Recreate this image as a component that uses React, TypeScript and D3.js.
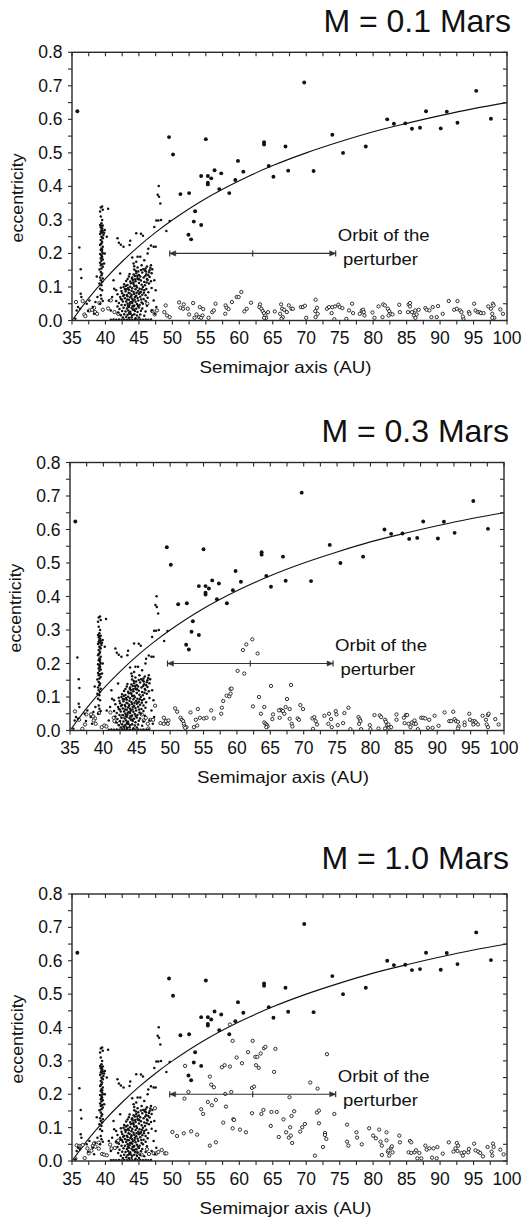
import React from 'react';
import * as d3 from 'd3';

const W = 524;
const H = 1221;

// Titles (perturber mass)
const massLabels = ['0.1', '0.3', '1.0'];
const xTickLabels = [35, 40, 45, 50, 55, 60, 65, 70, 75, 80, 85, 90, 95, 100];
const yTickLabels = ['0.0', '0.1', '0.2', '0.3', '0.4', '0.5', '0.6', '0.7', '0.8'];

// q = 35 AU curve [a, e]
const qCurve: [number, number][] = [
  [35, 0], [37.5, 0.067], [40, 0.125], [42.5, 0.176], [45, 0.222], [47.5, 0.263], [50, 0.3], [55, 0.364],
  [60, 0.417], [65, 0.462], [70, 0.5], [75, 0.533], [80, 0.563], [85, 0.588], [90, 0.611],
  [95, 0.632], [100, 0.65],
];

// Large filled dots (scattered objects, identical in all panels) [a, e]
const bigDots: [number, number][] = [
  [35.8, 0.624], [49.5, 0.547], [50.1, 0.495], [55.0, 0.541], [51.2, 0.377], [52.5, 0.38],
  [53.4, 0.326], [53.2, 0.295], [54.3, 0.285], [52.4, 0.256], [52.8, 0.242], [54.3, 0.431],
  [55.3, 0.431], [55.3, 0.411], [55.3, 0.406], [55.8, 0.424], [56.3, 0.448], [57.3, 0.439],
  [57.0, 0.392], [58.5, 0.38], [59.4, 0.419], [59.8, 0.476], [60.6, 0.444], [63.7, 0.532],
  [63.7, 0.525], [64.4, 0.461], [65.1, 0.429], [66.9, 0.519], [67.3, 0.447], [69.7, 0.71],
  [71.1, 0.446], [73.9, 0.554], [75.5, 0.5], [78.9, 0.519], [82.1, 0.6], [83.1, 0.587],
  [84.8, 0.588], [85.8, 0.572], [87.0, 0.575], [87.9, 0.624], [90.1, 0.573], [91.0, 0.623],
  [92.6, 0.59], [95.4, 0.685], [97.6, 0.602],
];

// Plutinos (small dots near 39.4 AU)
const plutinos: [number, number][] = [
  [39.3, 0.337], [39.5, 0.34], [39.2, 0.325], [39.6, 0.33], [40.4, 0.333],
  [39.3, 0.31], [39.5, 0.3], [39.4, 0.29], [39.2, 0.285], [39.6, 0.283], [39.3, 0.278],
  [39.5, 0.275], [39.4, 0.27], [39.6, 0.268], [39.3, 0.265], [39.5, 0.262], [39.2, 0.258],
  [39.7, 0.255], [39.4, 0.25], [39.6, 0.245], [39.3, 0.24], [39.5, 0.235], [39.8, 0.262],
  [39.4, 0.23], [39.2, 0.225], [39.6, 0.22], [39.4, 0.215], [39.3, 0.21], [39.5, 0.205],
  [39.6, 0.2], [39.2, 0.198], [39.4, 0.195], [39.5, 0.19], [39.3, 0.185], [39.6, 0.182],
  [39.4, 0.178], [39.2, 0.172], [39.5, 0.168], [39.3, 0.165], [39.6, 0.16], [39.4, 0.155],
  [39.1, 0.152], [39.3, 0.145], [39.5, 0.14], [39.4, 0.135], [39.2, 0.128], [39.6, 0.125],
  [39.3, 0.12], [39.5, 0.115], [39.1, 0.11], [39.4, 0.105], [39.2, 0.095], [39.5, 0.09],
  [39.3, 0.075], [39.4, 0.065], [39.6, 0.058], [39.2, 0.05], [39.9, 0.27], [39.9, 0.2],
  [39.8, 0.17], [39.4, 0.282], [39.5, 0.248], [39.3, 0.228], [39.5, 0.212], [39.4, 0.188],
];

// Other small dots (scattered low-a objects)
const scatterSmall: [number, number][] = [
  [35.5, 0.005], [36.1, 0.218], [36.3, 0.153], [36.4, 0.127], [36.3, 0.08], [36.4, 0.07],
  [35.9, 0.04], [36.2, 0.035], [35.7, 0.03], [37.2, 0.05], [37.6, 0.06], [38.1, 0.04],
  [38.5, 0.055], [38.7, 0.131], [38.8, 0.07], [37.4, 0.028], [38.3, 0.02], [40.2, 0.25],
  [40.5, 0.06], [40.8, 0.03], [41.0, 0.07], [41.3, 0.095], [41.6, 0.09], [41.8, 0.245],
  [42.0, 0.232], [42.3, 0.226], [42.7, 0.22], [43.7, 0.238], [43.6, 0.225], [44.6, 0.26],
  [45.3, 0.259], [45.6, 0.253], [44.8, 0.19], [45.2, 0.19], [46.3, 0.2], [46.4, 0.214],
  [46.8, 0.224], [47.5, 0.22], [47.2, 0.22], [47.9, 0.298], [49.1, 0.267], [49.6, 0.297],
  [47.3, 0.279], [47.6, 0.298], [48.3, 0.3], [47.96, 0.401], [47.8, 0.375], [48.0, 0.369],
  [48.2, 0.349], [44.2, 0.17], [44.6, 0.175], [45.8, 0.18], [46.0, 0.155], [46.6, 0.15],
  [46.8, 0.165], [47.3, 0.12], [47.5, 0.09], [47.2, 0.06], [47.6, 0.04], [46.9, 0.03],
  [47.4, 0.02], [44.0, 0.188], [42.2, 0.14], [41.2, 0.12],
];

// Classical belt (dense small dots)
const classical: [number, number][] = [
  [44.3, 0.162], [44.8, 0.158], [45.4, 0.165], [46.2, 0.161], [46.7, 0.157],
  [44.3, 0.152], [44.9, 0.146], [45.3, 0.151], [45.9, 0.149], [46.5, 0.144], [47.0, 0.153],
  [43.6, 0.139], [44.2, 0.137], [44.6, 0.141], [45.0, 0.136], [45.5, 0.143], [46.1, 0.138], [46.4, 0.135], [46.9, 0.141],
  [43.3, 0.124], [43.5, 0.131], [44.0, 0.128], [44.4, 0.133], [44.8, 0.126], [45.2, 0.131], [45.7, 0.128], [46.2, 0.124], [46.6, 0.13],
  [42.8, 0.108], [43.1, 0.118], [43.7, 0.116], [44.1, 0.121], [44.5, 0.117], [44.9, 0.123], [45.3, 0.119], [45.8, 0.115], [46.3, 0.121], [46.8, 0.117],
  [42.3, 0.098], [42.7, 0.1], [43.3, 0.106], [43.8, 0.111], [44.2, 0.109], [44.6, 0.104], [45.0, 0.112], [45.4, 0.107], [45.9, 0.105], [46.5, 0.11],
  [42.4, 0.088], [42.9, 0.094], [43.4, 0.097], [43.7, 0.101], [44.0, 0.096], [44.3, 0.103], [44.7, 0.099], [45.1, 0.095], [45.6, 0.1], [46.1, 0.094], [46.9, 0.097],
  [41.8, 0.078], [42.5, 0.081], [43.0, 0.087], [43.5, 0.092], [43.9, 0.089], [44.2, 0.085], [44.5, 0.093], [44.9, 0.088], [45.3, 0.086], [45.8, 0.09], [46.4, 0.084],
  [42.2, 0.07], [42.8, 0.076], [43.2, 0.076], [43.6, 0.081], [43.9, 0.077], [44.3, 0.079], [44.6, 0.074], [45.0, 0.08], [45.5, 0.077], [46.0, 0.075],
  [41.6, 0.058], [42.3, 0.064], [42.9, 0.066], [43.3, 0.072], [43.7, 0.069], [44.0, 0.065], [44.4, 0.07], [44.8, 0.067], [45.2, 0.071], [45.7, 0.064], [46.3, 0.068],
  [42.0, 0.052], [42.6, 0.057], [43.1, 0.057], [43.5, 0.062], [43.8, 0.055], [44.1, 0.059], [44.5, 0.056], [44.9, 0.06], [45.4, 0.054], [46.0, 0.058],
  [41.8, 0.042], [42.4, 0.046], [42.9, 0.046], [43.3, 0.05], [43.6, 0.047], [44.0, 0.052], [44.3, 0.045], [44.7, 0.049], [45.1, 0.046], [45.6, 0.05], [46.2, 0.044],
  [42.1, 0.034], [42.7, 0.038], [43.2, 0.036], [43.5, 0.04], [43.9, 0.037], [44.2, 0.042], [44.6, 0.035], [45.0, 0.039], [45.5, 0.036],
  [41.9, 0.024], [42.5, 0.028], [43.0, 0.027], [43.4, 0.03], [43.7, 0.026], [44.1, 0.032], [44.4, 0.028], [44.8, 0.025], [45.3, 0.029], [46.0, 0.027],
  [42.3, 0.016], [42.8, 0.019], [43.3, 0.017], [43.6, 0.02], [44.0, 0.016], [44.3, 0.019], [44.7, 0.015], [45.2, 0.018], [45.8, 0.014],
  [42.6, 0.009], [43.1, 0.011], [43.5, 0.008], [43.9, 0.01], [44.5, 0.007], [45.0, 0.009],
  [40.8, 0.002], [41.2, 0.003], [41.6, 0.002], [42.0, 0.003], [42.4, 0.002], [42.8, 0.003], [43.2, 0.002], [43.6, 0.003],
  [44.0, 0.002], [44.4, 0.003], [44.8, 0.002], [45.2, 0.003], [45.6, 0.002], [46.0, 0.003], [46.4, 0.002], [46.8, 0.003],
  [43.15, 0.093], [43.45, 0.083], [43.85, 0.073], [44.15, 0.113], [44.35, 0.063], [44.65, 0.083], [44.05, 0.043],
  [43.25, 0.063], [43.65, 0.053], [44.45, 0.123], [44.75, 0.133], [45.05, 0.123], [45.15, 0.083], [45.45, 0.093],
  [43.05, 0.103], [43.55, 0.023], [44.25, 0.033], [44.85, 0.043], [43.35, 0.043], [42.65, 0.073], [42.45, 0.063],
  [45.35, 0.063], [45.75, 0.083], [46.15, 0.113], [45.95, 0.133], [44.55, 0.148], [45.65, 0.153], [46.05, 0.146],
  [43.95, 0.125], [43.75, 0.02],
];

// Open circles, M = 0.1 Mars
const openP1: [number, number][] = [
  [35.6, 0.055], [36.6, 0.058], [36.85, 0.018], [37.0, 0.013], [37.6, 0.03], [38.0, 0.032], [38.3, 0.038],
  [38.45, 0.025], [38.75, 0.02], [39.1, 0.052], [39.6, 0.032], [40.4, 0.036], [40.8, 0.06], [41.35, 0.025],
  [41.9, 0.02], [46.25, 0.05], [47.0, 0.028], [47.35, 0.018], [47.7, 0.03], [49.0, 0.045], [48.8, 0.025],
  [49.2, 0.015], [49.6, 0.01], [51.0, 0.054], [51.2, 0.038], [51.6, 0.035], [51.7, 0.048], [52.3, 0.035],
  [52.5, 0.018], [53.1, 0.052], [53.6, 0.018], [53.3, 0.008], [54.1, 0.04], [54.6, 0.034], [54.5, 0.015],
  [54.0, 0.01], [54.3, 0.008], [55.4, 0.008], [55.95, 0.025], [56.2, 0.03], [56.45, 0.05], [57.95, 0.045],
  [58.1, 0.038], [58.4, 0.034], [57.9, 0.02], [58.9, 0.055], [59.6, 0.07], [59.9, 0.07], [60.3, 0.085],
  [60.75, 0.027], [61.1, 0.035], [61.75, 0.053], [63.1, 0.048], [63.0, 0.04], [63.3, 0.035], [63.5, 0.028],
  [63.7, 0.022], [63.9, 0.015], [64.0, 0.008], [63.7, 0.008], [64.3, 0.025], [65.3, 0.027], [66.25, 0.048],
  [66.4, 0.035], [66.7, 0.032], [66.1, 0.02], [66.5, 0.01], [66.3, 0.005], [67.1, 0.025], [67.4, 0.045],
  [67.8, 0.035], [68.0, 0.035], [69.2, 0.04], [69.5, 0.04], [69.8, 0.044], [70.0, 0.008], [71.4, 0.062],
  [71.6, 0.038], [71.35, 0.028], [71.7, 0.02], [71.4, 0.01], [73.1, 0.035], [73.4, 0.04], [73.9, 0.04],
  [74.3, 0.042], [74.8, 0.047], [75.0, 0.04], [75.4, 0.037], [74.2, 0.004], [73.8, 0.022], [76.0, 0.005],
  [76.4, 0.03], [76.85, 0.05], [77.0, 0.022], [78.3, 0.03], [78.5, 0.032], [78.6, 0.025], [78.7, 0.015],
  [78.0, 0.02], [79.9, 0.024], [80.2, 0.008], [80.8, 0.042], [81.5, 0.048], [81.75, 0.045], [82.2, 0.035],
  [82.4, 0.028], [82.6, 0.02], [82.3, 0.015], [81.4, 0.01], [82.9, 0.018], [83.9, 0.047], [84.0, 0.025],
  [85.3, 0.048], [85.5, 0.042], [85.5, 0.052], [85.2, 0.025], [85.8, 0.025], [86.1, 0.015], [86.3, 0.03],
  [86.5, 0.018], [86.8, 0.032], [86.3, 0.008], [87.8, 0.037], [88.0, 0.032], [88.4, 0.03], [88.9, 0.04],
  [88.7, 0.01], [89.7, 0.043], [89.5, 0.01], [90.4, 0.02], [91.3, 0.058], [92.1, 0.032], [92.5, 0.035],
  [92.6, 0.058], [93.0, 0.03], [93.2, 0.025], [93.5, 0.005], [93.4, 0.012], [94.3, 0.025], [94.4, 0.02],
  [95.1, 0.05], [95.3, 0.03], [95.6, 0.025], [95.9, 0.025], [96.1, 0.022], [96.5, 0.022], [97.2, 0.042],
  [97.6, 0.035], [97.9, 0.05], [98.0, 0.045], [97.8, 0.02], [98.1, 0.008], [97.8, 0.008], [99.0, 0.033],
  [99.4, 0.02],
];

// Open circles, M = 0.3 Mars
const openP2: [number, number][] = [
  [35.75, 0.057], [36.35, 0.032], [36.85, 0.005], [37.25, 0.018], [37.45, 0.048], [38.15, 0.048], [38.45, 0.042],
  [38.75, 0.036], [38.55, 0.03], [38.85, 0.02], [39.35, 0.052], [39.75, 0.01], [40.15, 0.015], [40.45, 0.012],
  [41.05, 0.054], [41.55, 0.038], [41.65, 0.028], [42.85, 0.042], [42.35, 0.022], [43.05, 0.01], [43.35, 0.008],
  [45.75, 0.048], [46.05, 0.03], [46.35, 0.038], [46.65, 0.02], [47.05, 0.032], [47.45, 0.032], [46.75, 0.006],
  [47.75, 0.074], [49.05, 0.038], [49.35, 0.028], [49.05, 0.02], [49.75, 0.03], [49.65, 0.02], [48.55, 0.022],
  [50.75, 0.066], [51.05, 0.056], [51.55, 0.038], [51.75, 0.032], [51.95, 0.028], [52.05, 0.02], [52.15, 0.012],
  [52.45, 0.01], [52.25, 0.008], [53.05, 0.054], [53.85, 0.032], [54.15, 0.064], [54.45, 0.038], [54.05, 0.015],
  [53.55, 0.01], [55.05, 0.036], [55.45, 0.038], [56.55, 0.036], [56.15, 0.06], [57.65, 0.05], [57.75, 0.068],
  [57.95, 0.088], [58.45, 0.104], [58.85, 0.102], [59.05, 0.11], [59.05, 0.124], [59.2, 0.125],
  [62.3, 0.272], [61.4, 0.257], [60.9, 0.24], [63.1, 0.23], [60.1, 0.178], [61.1, 0.17], [65.1, 0.133],
  [68.1, 0.136], [63.3, 0.1], [67.5, 0.094], [62.4, 0.072], [64.1, 0.07], [63.6, 0.05], [66.5, 0.062],
  [66.7, 0.06], [66.3, 0.06], [66.9, 0.058], [67.3, 0.07], [67.9, 0.064], [67.1, 0.05], [65.4, 0.048],
  [65.3, 0.034], [66.4, 0.038], [67.9, 0.035], [64.1, 0.024], [64.3, 0.02], [64.5, 0.016], [64.6, 0.012],
  [64.4, 0.01], [68.2, 0.02], [68.3, 0.012], [69.1, 0.036], [69.3, 0.032], [69.5, 0.076], [69.9, 0.064],
  [71.3, 0.036], [71.6, 0.04], [71.8, 0.028], [72.0, 0.018], [71.4, 0.005], [73.1, 0.044], [73.8, 0.05],
  [74.1, 0.034], [73.7, 0.02], [74.2, 0.01], [74.8, 0.058], [74.9, 0.048], [75.1, 0.016], [75.9, 0.022],
  [76.1, 0.052], [76.7, 0.068], [77.0, 0.004], [78.2, 0.04], [78.4, 0.034], [78.5, 0.028], [78.3, 0.02],
  [78.6, 0.004], [79.9, 0.016], [80.0, 0.004], [80.6, 0.046], [81.4, 0.045], [81.6, 0.04], [82.2, 0.032],
  [82.3, 0.026], [82.5, 0.016], [82.2, 0.006], [82.7, 0.018], [82.8, 0.008], [83.1, 0.01], [81.2, 0.006],
  [83.9, 0.048], [83.9, 0.032], [85.0, 0.038], [85.3, 0.046], [85.5, 0.046], [85.1, 0.022], [85.7, 0.02],
  [86.0, 0.01], [86.2, 0.024], [86.5, 0.02], [86.6, 0.03], [87.1, 0.004], [86.8, 0.02], [87.6, 0.038],
  [87.9, 0.038], [88.2, 0.036], [88.8, 0.032], [88.6, 0.008], [89.3, 0.008], [89.6, 0.044], [90.2, 0.014],
  [91.1, 0.054], [91.8, 0.028], [92.1, 0.028], [92.4, 0.056], [92.6, 0.034], [92.8, 0.028], [93.1, 0.026],
  [93.2, 0.012], [93.1, 0.006], [94.1, 0.024], [94.1, 0.016], [94.8, 0.05], [94.9, 0.032], [95.3, 0.028],
  [95.6, 0.028], [95.8, 0.024], [96.1, 0.018], [95.4, 0.018], [96.8, 0.044], [97.3, 0.032], [97.4, 0.018],
  [97.6, 0.01], [97.6, 0.046], [97.7, 0.05], [98.7, 0.034], [99.2, 0.018],
];

// Open circles, M = 1.0 Mars
const openP3: [number, number][] = [
  [35.7, 0.047], [35.5, 0.007], [36.1, 0.045], [36.4, 0.045], [36.6, 0.048], [36.9, 0.009], [37.3, 0.038],
  [37.5, 0.023], [37.9, 0.031], [38.1, 0.045], [38.3, 0.053], [38.5, 0.043], [39.0, 0.055], [39.0, 0.037],
  [39.5, 0.021], [39.8, 0.019], [40.2, 0.017], [40.7, 0.049], [40.9, 0.037], [41.4, 0.039], [41.7, 0.057],
  [41.9, 0.061], [44.5, 0.031], [44.8, 0.023], [45.4, 0.019], [46.2, 0.035], [46.5, 0.021], [47.2, 0.023],
  [47.6, 0.023], [47.9, 0.027], [47.4, 0.158], [48.4, 0.033], [48.9, 0.023], [49.1, 0.023], [50.0, 0.087],
  [50.7, 0.075], [51.7, 0.083], [52.8, 0.089], [53.7, 0.079], [51.9, 0.285], [52.4, 0.207], [51.8, 0.187],
  [58.6, 0.409], [59.0, 0.36], [62.0, 0.36], [59.6, 0.31], [60.4, 0.293], [61.3, 0.326], [62.4, 0.312],
  [62.7, 0.312], [63.2, 0.322], [63.7, 0.338], [63.9, 0.342], [65.4, 0.336], [57.4, 0.281], [57.8, 0.287],
  [58.6, 0.283], [62.5, 0.287], [62.9, 0.279], [65.2, 0.267], [73.1, 0.32], [55.6, 0.253], [55.8, 0.229],
  [56.2, 0.221], [61.9, 0.219], [62.2, 0.223], [70.6, 0.235], [71.7, 0.217], [67.5, 0.191], [57.9, 0.201],
  [58.8, 0.207], [55.3, 0.177], [55.9, 0.167], [56.5, 0.183], [54.3, 0.155], [54.6, 0.141], [58.0, 0.163],
  [59.1, 0.125], [59.2, 0.123], [57.6, 0.115], [59.0, 0.098], [60.1, 0.094], [61.0, 0.086], [61.9, 0.143],
  [63.3, 0.141], [63.6, 0.153], [64.8, 0.147], [65.6, 0.147], [66.6, 0.125], [67.8, 0.135], [68.2, 0.149],
  [64.7, 0.105], [65.9, 0.072], [67.0, 0.086], [67.6, 0.101], [67.4, 0.07], [67.7, 0.076], [67.9, 0.054],
  [69.1, 0.088], [69.4, 0.101], [69.8, 0.111], [71.6, 0.145], [71.9, 0.151], [71.9, 0.113], [72.8, 0.084],
  [72.8, 0.078], [73.0, 0.066], [72.5, 0.042], [71.3, 0.016], [55.6, 0.046], [56.5, 0.056], [74.2, 0.141],
  [76.1, 0.109], [76.1, 0.058], [76.3, 0.046], [77.5, 0.086], [77.6, 0.07], [78.3, 0.05], [79.4, 0.098],
  [80.0, 0.076], [80.4, 0.068], [80.9, 0.094], [81.1, 0.058], [81.3, 0.046], [81.3, 0.018], [82.0, 0.086],
  [82.0, 0.062], [82.2, 0.028], [82.3, 0.032], [82.4, 0.016], [82.7, 0.04], [82.8, 0.044], [82.9, 0.026],
  [83.9, 0.076], [84.0, 0.056], [85.5, 0.06], [85.7, 0.056], [85.3, 0.026], [85.7, 0.024], [86.2, 0.026],
  [86.4, 0.032], [86.6, 0.008], [86.9, 0.024], [87.2, 0.008], [87.8, 0.046], [88.0, 0.034], [88.4, 0.038],
  [88.8, 0.01], [89.0, 0.038], [89.6, 0.042], [89.5, 0.008], [90.4, 0.022], [91.3, 0.056], [92.0, 0.028],
  [92.3, 0.038], [92.5, 0.054], [92.7, 0.046], [92.6, 0.03], [93.2, 0.024], [93.4, 0.016], [93.6, 0.026],
  [94.2, 0.026], [94.3, 0.036], [95.1, 0.052], [95.3, 0.032], [95.7, 0.028], [96.0, 0.024], [96.4, 0.014],
  [97.1, 0.042], [97.7, 0.028], [97.9, 0.052], [98.0, 0.042], [97.8, 0.016], [99.0, 0.034], [99.5, 0.02],
];

const openSets = [openP1, openP2, openP3];

// Perturber orbit: perihelion, semimajor axis, aphelion (AU) at e = 0.2
const perturber = { q: 49.6, a: 62, Q: 74.4, e: 0.2 };

// Layout (pixels)
const layouts = [
  { left: 72, right: 507, top: 52.3, bottom: 320.5, titleX: 511, titleY: 32.3 },
  { left: 70, right: 504, top: 462.5, bottom: 730.5, titleX: 509, titleY: 441.7 },
  { left: 72, right: 507, top: 894, bottom: 1161, titleX: 509, titleY: 869.3 },
];

const FONT = "'Liberation Sans', Arial, Helvetica, sans-serif";
const INK = '#111';
const FRAME = '#2a2a2a';

function Panel({ idx }: { idx: number }) {
  const L = layouts[idx];
  const x = d3.scaleLinear().domain([35, 100]).range([L.left, L.right]);
  const y = d3.scaleLinear().domain([0, 0.8]).range([L.bottom, L.top]);
  const line = d3.line<[number, number]>().x(d => x(d[0])).y(d => y(d[1])).curve(d3.curveCatmullRom);
  const xMinor = xTickLabels.slice(0, -1).map(v => v + 2.5);
  const yMajor = yTickLabels.map(s => +s);
  const yMinor = yMajor.slice(0, -1).map(v => v + 0.05);
  const tl = 4;
  const ye = y(perturber.e);
  const x1 = x(perturber.q), x2 = x(perturber.Q), xm = x(perturber.a);
  const smalls = [...classical, ...plutinos, ...scatterSmall];
  return (
    <g>
      <text x={L.titleX} y={L.titleY} textAnchor="end" fontSize={32} fontFamily={FONT} fill={INK}>
        {`M = ${massLabels[idx]} Mars`}
      </text>
      <defs>
        <clipPath id={`clip${idx}`}>
          <rect x={L.left} y={L.top - 2} width={L.right - L.left} height={L.bottom - L.top + 2} />
        </clipPath>
      </defs>
      <g clipPath={`url(#clip${idx})`}>
        <path d={line(qCurve) || ''} fill="none" stroke="#111" strokeWidth={1.1} />
        {openSets[idx].map((d, i) => (
          <circle key={'o' + i} cx={x(d[0])} cy={y(d[1])} r={1.65} fill="#fff" stroke="#111" strokeWidth={0.85} />
        ))}
        {smalls.map((d, i) => (
          <circle key={'s' + i} cx={x(d[0])} cy={y(d[1])} r={1.25} fill="#111" />
        ))}
        {bigDots.map((d, i) => (
          <circle key={'b' + i} cx={x(d[0])} cy={y(d[1])} r={1.95} fill="#111" />
        ))}
      </g>
      {/* perturber orbit */}
      <g stroke="#333" strokeWidth={1.2} fill="#333">
        <line x1={x1} x2={x2} y1={ye} y2={ye} />
        <line x1={x1} x2={x1} y1={ye - 3} y2={ye + 3} />
        <line x1={x2} x2={x2} y1={ye - 3} y2={ye + 3} />
        <line x1={xm} x2={xm} y1={ye - 3} y2={ye + 3} />
        <path d={`M${x1},${ye}L${x1 + 6},${ye - 2.6}L${x1 + 6},${ye + 2.6}Z`} strokeWidth={0.5} />
        <path d={`M${x2},${ye}L${x2 - 6},${ye - 2.6}L${x2 - 6},${ye + 2.6}Z`} strokeWidth={0.5} />
      </g>
      <text x={x(74.7)} y={y(0.237)} fontSize={17} fontFamily={FONT} fill={INK} textLength={92} lengthAdjust="spacingAndGlyphs">
        Orbit of the
      </text>
      <text x={x(75.5)} y={y(0.165)} fontSize={17} fontFamily={FONT} fill={INK} textLength={75} lengthAdjust="spacingAndGlyphs">
        perturber
      </text>
      {/* frame */}
      <rect x={L.left} y={L.top} width={L.right - L.left} height={L.bottom - L.top} fill="none" stroke={FRAME} strokeWidth={1.4} />
      {/* ticks */}
      <g stroke={FRAME} strokeWidth={1.1}>
        {[...xTickLabels, ...xMinor].map((v, i) => (
          <g key={'xt' + i}>
            <line x1={x(v)} x2={x(v)} y1={L.bottom} y2={L.bottom + tl} />
            <line x1={x(v)} x2={x(v)} y1={L.top} y2={L.top + tl} />
          </g>
        ))}
        {[...yMajor, ...yMinor].map((v, i) => (
          <g key={'yt' + i}>
            <line x1={L.left - tl} x2={L.left} y1={y(v)} y2={y(v)} />
            <line x1={L.right - tl} x2={L.right} y1={y(v)} y2={y(v)} />
          </g>
        ))}
      </g>
      {xTickLabels.map((v, i) => (
        <text key={'xl' + i} x={x(v)} y={L.bottom + 23.5} textAnchor="middle" fontSize={17.5} fontFamily={FONT} fill={INK}>
          {v}
        </text>
      ))}
      {yTickLabels.map((s, i) => (
        <text key={'yl' + i} x={L.left - 9.5} y={y(+s) + 6} textAnchor="end" fontSize={17.5} fontFamily={FONT} fill={INK}>
          {s}
        </text>
      ))}
      <text x={(L.left + L.right) / 2 - 4} y={L.bottom + 52.5} textAnchor="middle" fontSize={16.5} fontFamily={FONT} fill={INK}
        textLength={172} lengthAdjust="spacingAndGlyphs">
        Semimajor axis (AU)
      </text>
      <text transform={`translate(${L.left - 49},${(L.top + L.bottom) / 2 + 11.5}) rotate(-90)`} textAnchor="middle"
        fontSize={17} fontFamily={FONT} fill={INK} textLength={89} lengthAdjust="spacingAndGlyphs">
        eccentricity
      </text>
    </g>
  );
}

export default function App() {
  return (
    <svg width={W} height={H} viewBox={`0 0 ${W} ${H}`} style={{ position: 'absolute', left: 0, top: 0, background: '#fff' }}>
      <rect width={W} height={H} fill="#fff" />
      {[0, 1, 2].map(i => <Panel key={i} idx={i} />)}
    </svg>
  );
}
